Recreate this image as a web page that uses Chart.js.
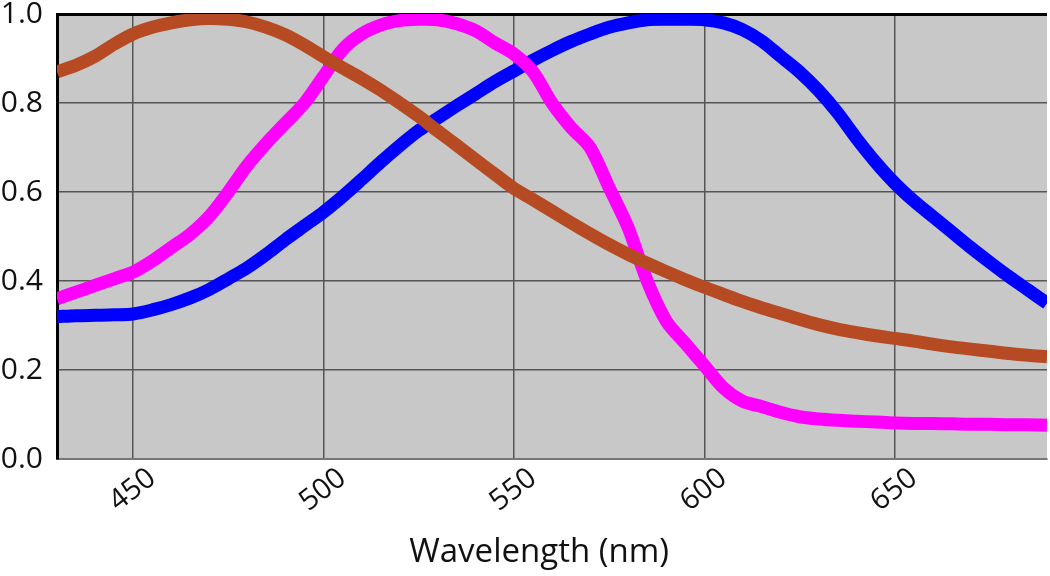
<!DOCTYPE html>
<html>
<head>
<meta charset="utf-8">
<script src="https://cdn.jsdelivr.net/npm/chart.js@4.4.1/dist/chart.umd.min.js"></script>
<style>
  html, body { margin: 0; padding: 0; background: #fff; }
  #wrap { width: 1050px; height: 576px; }
</style>
</head>
<body>
<div id="wrap"><canvas id="chart" width="1050" height="576"></canvas></div>
<script>
// wavelength samples (nm), 5 nm apart
const wavelengths = [430, 435, 440, 445, 450, 455, 460, 465, 470, 475, 480, 485, 490, 495, 500,
  505, 510, 515, 520, 525, 530, 535, 540, 545, 550, 555, 560, 565, 570, 575, 580, 585, 590, 595,
  600, 605, 610, 615, 620, 625, 630, 635, 640, 645, 650, 655, 660, 665, 670, 675, 680, 685, 690];

const brownVals = [0.87, 0.885, 0.905, 0.932, 0.955, 0.97, 0.98, 0.987, 0.99, 0.988, 0.982, 0.97, 0.953, 0.93, 0.904,
  0.879, 0.855, 0.829, 0.80, 0.77, 0.737, 0.705, 0.672, 0.64, 0.608, 0.583, 0.557, 0.531, 0.506, 0.482, 0.46, 0.44, 0.421, 0.403,
  0.386, 0.37, 0.354, 0.34, 0.327, 0.314, 0.302, 0.292, 0.284, 0.277, 0.271, 0.265, 0.258, 0.252, 0.247, 0.242, 0.237, 0.233, 0.23];

const magentaVals = [0.36, 0.375, 0.39, 0.405, 0.42, 0.445, 0.475, 0.505, 0.545, 0.60, 0.66, 0.71, 0.755, 0.80, 0.86,
  0.92, 0.955, 0.975, 0.985, 0.988, 0.987, 0.978, 0.962, 0.935, 0.91, 0.87, 0.80, 0.745, 0.70, 0.61, 0.52, 0.40, 0.31, 0.26,
  0.21, 0.16, 0.13, 0.118, 0.105, 0.095, 0.09, 0.087, 0.085, 0.083, 0.081, 0.08, 0.08, 0.079, 0.078, 0.078, 0.077, 0.077, 0.076];

const blueVals = [0.32, 0.322, 0.323, 0.324, 0.326, 0.335, 0.347, 0.362, 0.381, 0.405, 0.43, 0.46, 0.493, 0.524, 0.555,
  0.59, 0.628, 0.667, 0.704, 0.738, 0.766, 0.794, 0.821, 0.848, 0.872, 0.896, 0.918, 0.938, 0.955, 0.97, 0.98, 0.987, 0.988, 0.988,
  0.987, 0.98, 0.965, 0.94, 0.905, 0.87, 0.828, 0.778, 0.72, 0.667, 0.62, 0.58, 0.545, 0.51, 0.475, 0.442, 0.41, 0.38, 0.35];

const xTickValues = [450, 500, 550, 600, 650];
const xTitle = 'Wavelength (nm)';

const FONT = '"Open Sans", "DejaVu Sans", sans-serif';
const GRID = '#555555';

const toPoints = vals => vals.map((v, i) => ({ x: wavelengths[i], y: v }));

const series = (label, vals, color) => ({
  label,
  data: toPoints(vals),
  borderColor: color,
  backgroundColor: color,
  borderWidth: 13,
  pointRadius: 0,
  tension: 0.3,
  borderCapStyle: 'butt',
  borderJoinStyle: 'round',
  clip: 0,
});

// grey plot background
const plotBg = {
  id: 'plotBg',
  beforeDraw(chart) {
    const { ctx, chartArea: a } = chart;
    ctx.save();
    ctx.fillStyle = '#c9c8c9';
    ctx.fillRect(a.left, a.top, a.right - a.left, a.bottom - a.top);
    ctx.restore();
  },
};

new Chart(document.getElementById('chart'), {
  type: 'line',
  data: {
    datasets: [
      series('Brown', brownVals, '#b64a22'),
      series('Magenta', magentaVals, '#ff00ff'),
      series('Blue', blueVals, '#0000ff'),
    ],
  },
  options: {
    responsive: false,
    animation: false,
    devicePixelRatio: 1,
    layout: { padding: { top: 14, right: 3, left: 0, bottom: 0 } },
    plugins: { legend: { display: false }, tooltip: { enabled: false } },
    scales: {
      x: {
        type: 'linear',
        min: 430,
        max: 690,
        afterBuildTicks: s => { s.ticks = xTickValues.map(v => ({ value: v })); },
        afterFit: s => { s.height = 117; s.paddingLeft = 0; s.paddingRight = 0; },
        grid: { color: GRID, lineWidth: 1.5, drawTicks: false },
        border: { color: '#777777', width: 2 },
        ticks: {
          autoSkip: false,
          minRotation: 38,
          maxRotation: 38,
          padding: 2,
          labelOffset: 19,
          color: '#111',
          font: { family: FONT, size: 29 },
        },
        title: {
          display: true,
          text: xTitle + '\u00a0\u00a0\u00a0',
          color: '#111',
          font: { family: FONT, size: 33 },
          padding: { top: 0, bottom: 4 },
        },
      },
      y: {
        min: 0,
        max: 1,
        afterFit: s => { s.width = 57; s.paddingTop = 0; s.paddingBottom = 0; },
        grid: {
          drawTicks: false,
          color: c => (c.tick && c.tick.value > 0.999 ? '#000' : GRID),
          lineWidth: c => (c.tick && c.tick.value > 0.999 ? 3 : 1.5),
        },
        border: { color: '#000', width: 3 },
        ticks: {
          stepSize: 0.2,
          padding: 14,
          color: '#111',
          font: { family: FONT, size: 30 },
          callback: v => v.toFixed(1),
        },
      },
    },
  },
  plugins: [plotBg],
});
</script>
</body>
</html>
